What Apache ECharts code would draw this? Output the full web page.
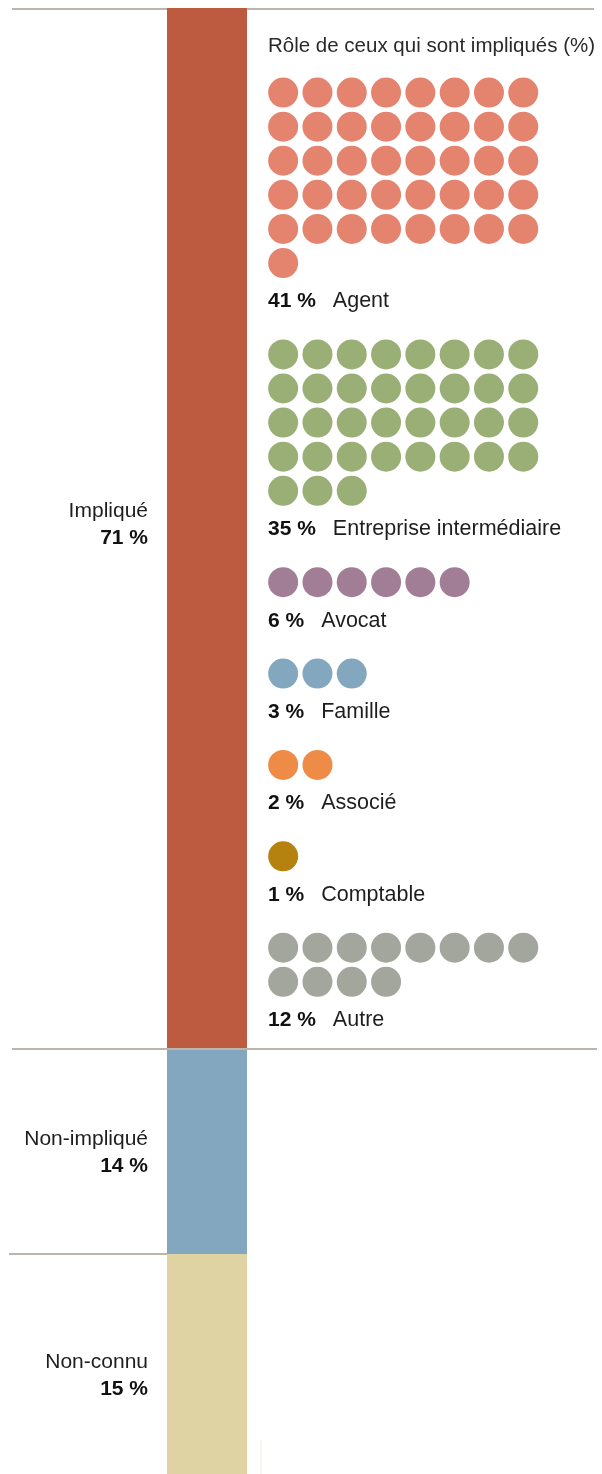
<!DOCTYPE html>
<html>
<head>
<meta charset="utf-8">
<style>
  html, body { margin: 0; padding: 0; background: #ffffff; }
  #chart { width: 602px; height: 1474px; }
</style>
<script src="https://cdn.jsdelivr.net/npm/echarts@6/dist/echarts.min.js"></script>
</head>
<body>
<div id="chart"></div>
<script>
// Overall split of cases
const totalCategories = ['Impliqué', 'Non-impliqué', 'Non-connu'];
const totalValues = [71, 14, 15];

// Role of those involved (%), one dot per percent
const roleNames = ['Agent', 'Entreprise intermédiaire', 'Avocat', 'Famille', 'Associé', 'Comptable', 'Autre'];
const roleValues = [41, 35, 6, 3, 2, 1, 12];

const chartTitle = 'Rôle de ceux qui sont impliqués (%)';

// Palettes
const barColors = ['#BC5B3F', '#84A7C0', '#E0D3A3'];
const dotColors = ['#E4836E', '#9AAF75', '#A27E96', '#84A7C0', '#EE8B47', '#B5820F', '#A3A69C'];
// Vertical nudges for the segment captions
const barLabelOffsets = [[0, -4], [0, 1], [0, 12]];

const FONT = '"Liberation Sans", Arial, sans-serif';
const COLS = 8;           // dots per row
const LABEL_AFTER = 1.13; // rows between last dot row and the group label
const GROUP_AFTER = 1.55; // rows between group label and next group's dots

const chart = echarts.init(document.getElementById('chart'), null, { renderer: 'canvas' });

// Stacked bar series
const barSeries = totalCategories.map((name, k) => ({
  type: 'bar',
  name: name,
  stack: 'total',
  xAxisIndex: 0,
  yAxisIndex: 0,
  barWidth: '100%',
  silent: true,
  itemStyle: { color: barColors[k], opacity: 1 },
  label: {
    show: true,
    position: 'left',
    distance: 19,
    align: 'right',
    offset: barLabelOffsets[k],
    formatter: p => '{n|' + p.seriesName + '}\n{v|' + p.value + ' %}',
    rich: {
      n: { fontFamily: FONT, fontSize: 21, color: '#1e1e1e', lineHeight: 27, align: 'right' },
      v: { fontFamily: FONT, fontSize: 21, fontWeight: 'bold', color: '#111', lineHeight: 27, align: 'right' }
    }
  },
  data: [totalValues[k]]
}));

// Dot groups laid out in rows of COLS
const dotSeries = [];
let cursor = 0;
roleValues.forEach((v, k) => {
  const pts = [];
  for (let i = 0; i < v; i++) {
    pts.push([i % COLS, cursor + Math.floor(i / COLS)]);
  }
  const lastRow = cursor + Math.ceil(v / COLS) - 1;
  const labelRow = lastRow + LABEL_AFTER;
  dotSeries.push({
    type: 'scatter',
    name: roleNames[k],
    xAxisIndex: 1,
    yAxisIndex: 1,
    symbol: 'circle',
    symbolSize: 30,
    silent: true,
    itemStyle: { color: dotColors[k], opacity: 1 },
    data: pts
  });
  dotSeries.push({
    type: 'scatter',
    name: roleNames[k] + ' label',
    xAxisIndex: 1,
    yAxisIndex: 1,
    symbolSize: 0,
    silent: true,
    itemStyle: { opacity: 1 },
    label: {
      show: true,
      position: 'right',
      distance: 2,
      color: '#1e1e1e',
      formatter: '{v|' + v + ' %}{n|' + roleNames[k] + '}',
      rich: {
        v: { fontFamily: FONT, fontSize: 21, fontWeight: 'bold', color: '#111' },
        n: { fontFamily: FONT, fontSize: 21.5, color: '#1e1e1e', padding: [0, 0, 0, 17] }
      }
    },
    data: [[-0.5, labelRow]]
  });
  cursor = labelRow + GROUP_AFTER;
});

chart.setOption({
  animation: false,
  title: {
    text: chartTitle,
    left: 268,
    top: 36,
    padding: 0,
    textStyle: { fontFamily: FONT, fontSize: 20.5, fontWeight: 'normal', color: '#2a2a2a' }
  },
  grid: [
    { left: 167, top: 8, width: 80, height: 1466 },
    { left: 266, top: 75.5, width: 274.4, height: 1398 }
  ],
  xAxis: [
    { type: 'category', gridIndex: 0, data: [''], show: false },
    { type: 'value', gridIndex: 1, min: -0.5, max: 7.5, show: false }
  ],
  yAxis: [
    { type: 'value', gridIndex: 0, min: 0, max: 100, inverse: true, show: false },
    { type: 'value', gridIndex: 1, min: -0.5, max: 40.5, inverse: true, show: false }
  ],
  series: barSeries.concat(dotSeries)
});

// Separator rules at the segment boundaries
const yAt = v => chart.convertToPixel({ yAxisIndex: 0 }, v);
const ruleStyle = { stroke: '#BDB5AA', lineWidth: 2 };
const y0 = Math.round(yAt(0)) + 1;
const y1 = Math.round(yAt(totalValues[0]));
const y2 = Math.round(yAt(totalValues[0] + totalValues[1]));
chart.setOption({
  graphic: [
    { type: 'line', z: -1, shape: { x1: 12, y1: y0, x2: 594, y2: y0 }, style: ruleStyle, silent: true },
    { type: 'line', z: 10, shape: { x1: 12, y1: y1, x2: 597, y2: y1 }, style: ruleStyle, silent: true },
    { type: 'line', z: 10, shape: { x1: 9, y1: y2, x2: 167, y2: y2 }, style: ruleStyle, silent: true },
    { type: 'line', z: -1, shape: { x1: 261, y1: 1440, x2: 261, y2: 1474 }, style: { stroke: '#F1EEE5', lineWidth: 1 }, silent: true }
  ]
});
</script>
</body>
</html>
